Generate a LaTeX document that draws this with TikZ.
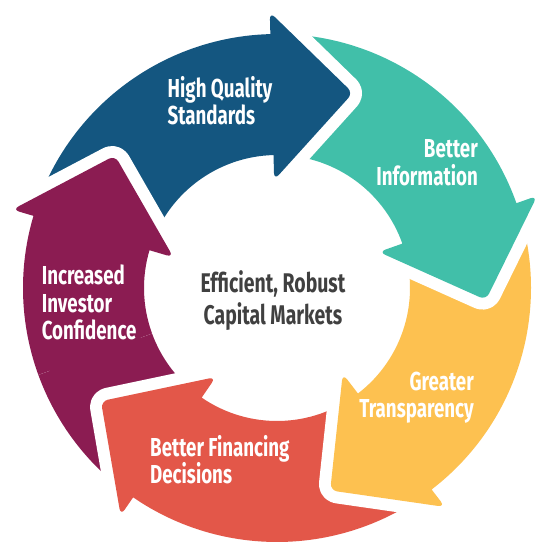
\documentclass[tikz,border=0pt]{standalone}
\usepackage{fontspec}
\setmainfont{Fira Sans}[FakeStretch=0.72]
\usetikzlibrary{calc}
\definecolor{cblue}{HTML}{145680}
\definecolor{cteal}{HTML}{41BFA9}
\definecolor{cyellow}{HTML}{FDC150}
\definecolor{cred}{HTML}{E35749}
\definecolor{cpurple}{HTML}{8B1C52}
\definecolor{ctext}{HTML}{404040}
\tikzset{
  seg/.style={fill=#1, preaction={draw=white, line width=24pt, line join=round}},
  lbl/.style={text=white, font=\fontsize{26}{27.5}\selectfont\bfseries, inner sep=0pt},
  mid/.style={text=ctext, font=\fontsize{27}{32}\selectfont\bfseries, inner sep=0pt, align=center},
}
\newcommand{\cyclearrow}[2]{%
  \path[seg=#2] (#1+72:254pt) arc[start angle=#1+72, end angle=#1, radius=254pt]
    [rounded corners=7pt] -- (#1:276pt) -- ($(#1:193pt)+(#1-90:81pt)$) -- (#1:108pt)
    [sharp corners] -- (#1:133pt) arc[start angle=#1, end angle=#1+72, radius=133pt] -- cycle;
}
\begin{document}
\begin{tikzpicture}[x=1pt,y=1pt]
\useasboundingbox (0,0) rectangle (550,552);
\begin{scope}[shift={(277,264)}]
  \cyclearrow{163.5}{cpurple}
  \cyclearrow{-124.5}{cred}
  \cyclearrow{-52.5}{cyellow}
  \cyclearrow{19.5}{cteal}
  \cyclearrow{91.5}{cblue}
  \begin{scope}
    \clip (0,0) -- (125:330pt) arc[start angle=125, end angle=200, radius=330pt] -- cycle;
    \cyclearrow{163.5}{cpurple}
  \end{scope}
\end{scope}
\node[lbl, align=left, anchor=north west] (hq) at (167.5,476) {High Quality\\Standards};
\node[lbl, align=right, anchor=north east] (bi) at (478,412.5) {Better\\Information};
\node[lbl, align=right, anchor=north east] (gt) at (474,180.5) {Greater\\Transparency};
\node[lbl, align=left, anchor=north west] (bf) at (150,117) {Better Financing\\Decisions};
\node[lbl, align=left, anchor=north west] (ic) at (41.6,287) {Increased\\Investor\\Confidence};
\node[mid, anchor=north] (ce) at (273,282) {Efficient, Robust\\Capital Markets};
\end{tikzpicture}
\end{document}
